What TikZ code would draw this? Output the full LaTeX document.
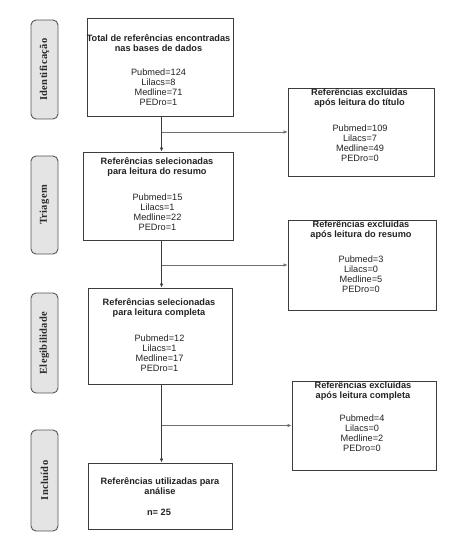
\documentclass[tikz,border=0pt]{standalone}
\usepackage{fontspec}
\setmainfont{Liberation Sans}
\newfontfamily\phasefont[LetterSpace=3]{Liberation Serif}
\usetikzlibrary{arrows.meta}
\definecolor{boxline}{HTML}{3C3C3C}
\definecolor{labline}{HTML}{555555}
\definecolor{labfill}{HTML}{E4E4E4}
\definecolor{labtext}{HTML}{2A2A2A}
\definecolor{txt}{HTML}{222222}
\definecolor{branchline}{HTML}{707070}
\begin{document}
\begin{tikzpicture}[x=1pt,y=-1pt,
  phase/.style={draw=labline, fill=labfill, rounded corners=5pt, line width=0.9pt,
    rotate=90, minimum height=27pt, inner sep=0pt, text=labtext,
    font=\phasefont\bfseries\fontsize{10.5}{12}\selectfont},
  flowbox/.style={draw=boxline, line width=0.9pt, inner sep=0pt},
  ttl/.style={anchor=north, inner sep=0pt, align=center, text=txt,
    font=\bfseries\fontsize{9.2}{10}\selectfont},
  cnt/.style={anchor=north, inner sep=0pt, align=center, text=txt,
    font=\fontsize{9.2}{10}\selectfont},
  flow/.style={draw=boxline, line width=0.9pt, -{Latex[length=4pt,width=3.6pt]}},
  branch/.style={draw=branchline, line width=0.6pt, -{Latex[length=4pt,width=3.6pt]}}
]
\useasboundingbox (0,0) rectangle (448,540);

% phase labels
\node[phase, minimum width=99pt]  (l1) at (44.5,69.5) {Identificação};
\node[phase, minimum width=98pt]  (l2) at (44.5,205)  {Triagem};
\node[phase, minimum width=100pt] (l3) at (44.5,343)  {Elegibilidade};
\node[phase, minimum width=101pt] (l4) at (44.5,480.5) {Incluído};

% main boxes
\node[flowbox, minimum width=146pt, minimum height=98pt] (b1) at (160,67) {};
\node[flowbox, minimum width=150pt, minimum height=88pt] (b2) at (158,196) {};
\node[flowbox, minimum width=144pt, minimum height=96pt] (b3) at (160,336) {};
\node[flowbox, minimum width=144pt, minimum height=66pt] (b4) at (160,496) {};

% right boxes
\node[flowbox, minimum width=146pt, minimum height=88pt] (r1) at (361,132) {};
\node[flowbox, minimum width=148pt, minimum height=90pt] (r2) at (362,265) {};
\node[flowbox, minimum width=144pt, minimum height=89pt] (r3) at (364,425.5) {};

% texts
\node[ttl] (t1) at (158.5,34) {Total de referências encontradas\\nas bases de dados};
\node[cnt] (c1) at (158.5,68.6) {Pubmed=124\\Lilacs=8\\Medline=71\\PEDro=1};

\node[ttl] (t2) at (157,157.5) {Referências selecionadas\\para leitura do resumo};
\node[cnt] (c2) at (157.5,193.6) {Pubmed=15\\Lilacs=1\\Medline=22\\PEDro=1};

\node[ttl] (t3) at (159,298.5) {Referências selecionadas\\para leitura completa};
\node[cnt] (c3) at (159.5,334.6) {Pubmed=12\\Lilacs=1\\Medline=17\\PEDro=1};

\node[ttl] (t4) at (160,477.5) {Referências utilizadas para\\análise};
\node[ttl] (c4) at (159,509) {n= 25};

\node[ttl] (t5) at (359.5,88) {Referências excluídas\\após leitura do título};
\node[cnt] (c5) at (360,124.6) {Pubmed=109\\Lilacs=7\\Medline=49\\PEDro=0};

\node[ttl] (t6) at (361,220.5) {Referências excluídas\\após leitura do resumo};
\node[cnt] (c6) at (361,255.6) {Pubmed=3\\Lilacs=0\\Medline=5\\PEDro=0};

\node[ttl] (t7) at (363,381.5) {Referências excluídas\\após leitura completa};
\node[cnt] (c7) at (362,414.6) {Pubmed=4\\Lilacs=0\\Medline=2\\PEDro=0};

% connectors
\coordinate (spine) at (161.5,0);
\draw[flow] (b1.south -| spine) -- (b2.north -| spine);
\draw[flow] (b2.south -| spine) -- (b3.north -| spine);
\draw[flow] (b3.south -| spine) -- (b4.north -| spine);
\draw[branch] (spine |- r1.west) -- (r1.west);
\draw[branch] (spine |- r2.west) -- (r2.west);
\draw[branch] (spine |- r3.west) -- (r3.west);
\end{tikzpicture}
\end{document}
